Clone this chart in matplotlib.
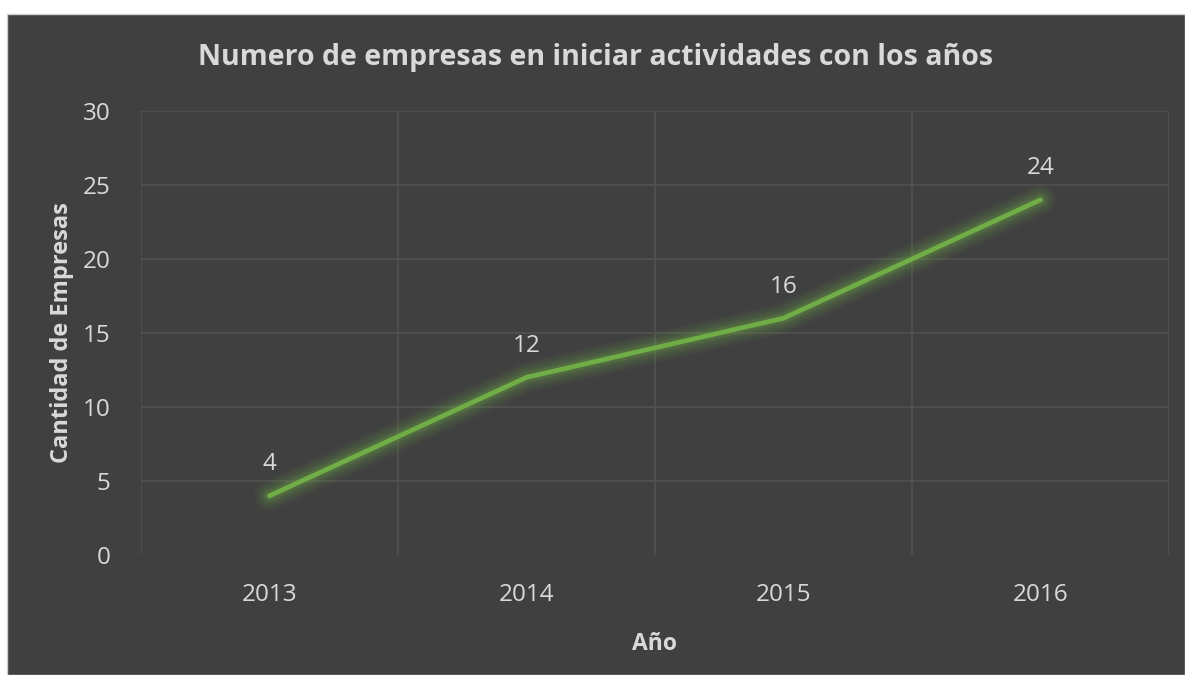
import matplotlib
matplotlib.use("Agg")
import matplotlib.pyplot as plt
from matplotlib.patches import Rectangle

years = ["2013", "2014", "2015", "2016"]
values = [4, 12, 16, 24]
y_ticks = [0, 5, 10, 15, 20, 25, 30]

title = "Numero de empresas en iniciar actividades con los años"
x_label = "Año"
y_label = "Cantidad de Empresas"

bg = "#404040"
txt = "#d9d9d9"
grid_c = "#515151"
green = "#70ad47"

plt.rcParams["font.family"] = ["Open Sans", "DejaVu Sans"]

fig = plt.figure(figsize=(11.85, 6.75), dpi=100)
fig.patch.set_facecolor("white")
fig.patches.append(Rectangle((7 / 1185, 0), 1 - 7 / 1185, 1 - 14 / 675,
                             transform=fig.transFigure, facecolor=bg,
                             edgecolor="#d0d0d0", linewidth=1.0, zorder=-5))

ax = fig.add_axes([141 / 1185, 1 - 555 / 675, (1169 - 141) / 1185, (555 - 111) / 675])
ax.set_zorder(2)
ax.set_facecolor(bg)
ax.patch.set_alpha(0)
x = list(range(len(years)))
ax.set_xlim(-0.5, len(years) - 0.5)
ax.set_ylim(0, 30)

for yv in y_ticks[1:]:
    ax.axhline(yv, color=grid_c, linewidth=1.2, zorder=1)
for xv in [i - 0.5 for i in range(len(years) + 1)]:
    ax.axvline(xv, color=grid_c, linewidth=1.2, zorder=1)

# glow
for lw, a in [(22, 0.06), (18, 0.07), (14, 0.09), (10, 0.12), (7, 0.17)]:
    ax.plot(x, values, color=green, linewidth=lw, alpha=a, solid_capstyle="round",
            solid_joinstyle="round", zorder=2)
ax.plot(x, values, color=green, linewidth=3.4, solid_capstyle="round",
        solid_joinstyle="round", zorder=3)

for xi, v in zip(x, values):
    ax.annotate(str(v), (xi, v), xytext=(0, 14), textcoords="offset points",
                ha="center", va="bottom", color=txt, fontsize=17.5, zorder=4)

ax.set_xticks(x)
ax.set_xticklabels(years)
ax.set_yticks(y_ticks)
ax.tick_params(axis="both", length=0, colors=txt, labelsize=17.5)
ax.tick_params(axis="x", pad=20)
ax.tick_params(axis="y", pad=22)
for s in ax.spines.values():
    s.set_visible(False)

ax.set_xlabel(x_label, color=txt, fontsize=16.5, fontweight="bold", labelpad=18)
ax.set_ylabel(y_label, color=txt, fontsize=17, fontweight="bold", labelpad=6)

fig.text(596 / 1185, 1 - 58 / 675, title, ha="center", va="center",
         color=txt, fontsize=20.5, fontweight="bold")

fig.savefig("out.png", dpi=100, facecolor=fig.get_facecolor())
